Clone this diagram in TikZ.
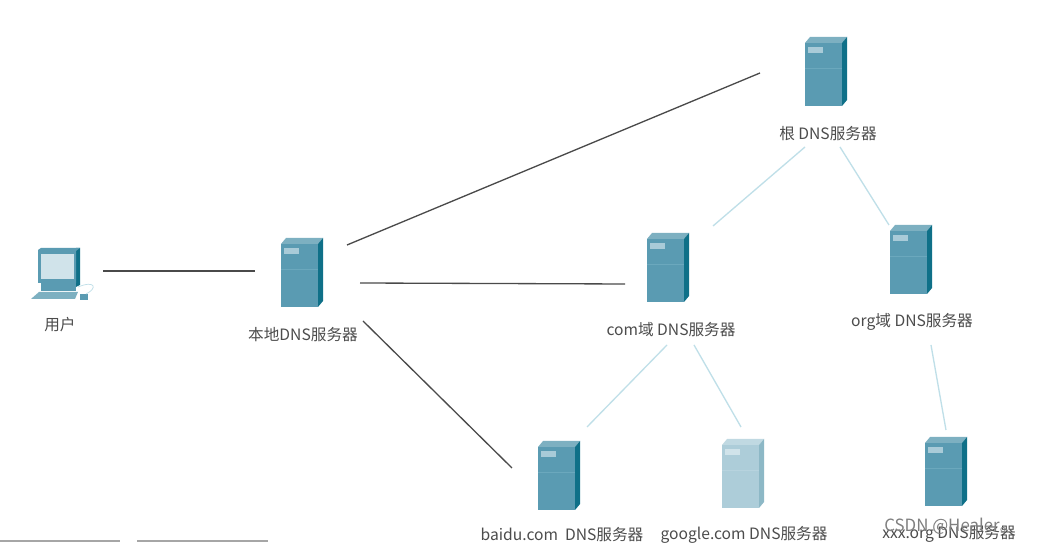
\documentclass[tikz,border=0pt]{standalone}
\usepackage{fontspec}
\setmainfont{Noto Sans CJK SC}
\definecolor{srvfront}{HTML}{5A9BB2}
\definecolor{srvtop}{HTML}{7DB0C1}
\definecolor{srvside}{HTML}{0F7088}
\definecolor{srvmark}{HTML}{A9CBD8}
\definecolor{srvseam}{HTML}{6BA8BD}
\definecolor{palefront}{HTML}{ADCDD9}
\definecolor{paletop}{HTML}{C0D9E2}
\definecolor{paleside}{HTML}{8DB8C6}
\definecolor{palemark}{HTML}{D0E3EA}
\definecolor{paleseam}{HTML}{B7D3DE}
\definecolor{linkline}{HTML}{4A4A4A}
\definecolor{treeline}{HTML}{BFDFE8}
\tikzset{
  devtxt/.style={font=\fontsize{8.9pt}{10pt}\selectfont, text=black!70, inner sep=0pt},
  hub/.style={inner sep=0pt, minimum size=0pt},
  link/.style={linkline, line width=0.75pt},
  tree/.style={treeline, line width=0.75pt},
  pics/server/.style={code={
    \fill[#1front] (-21,-28) rectangle (16,35);
    \fill[#1top] (-21,-28) -- (-16,-34) -- (21,-34) -- (16,-28) -- cycle;
    \fill[#1side] (16,-28) -- (21,-34) -- (21,29) -- (16,35) -- cycle;
    \fill[#1mark] (-18,-24) rectangle (-3,-18);
    \draw[#1seam, line width=0.4pt] (-21,-3) -- (16,-3);
  }},
}
\begin{document}
\begin{tikzpicture}[x=0.02cm, y=-0.02cm]
  \fill[white] (0,0) rectangle (1039,543);
  \useasboundingbox (0,0) rectangle (1039,543);

  % servers
  \foreach \name/\xx/\yy/\tone/\lx/\ly/\txt in {
    local/302/272/srv/303/335/本地DNS服务器,
    root/826/71/srv/828/134/根 DNS服务器,
    com/668/267/srv/671/330/com域 DNS服务器,
    org/911/259/srv/912/322/org域 DNS服务器,
    baidu/559/475/srv/562/535/baidu.com\ \ DNS服务器,
    google/743/473/pale/744/535/google.com DNS服务器,
    xxx/946/471/srv/949/534/xxx.org DNS服务器}{
    \pic at (\xx,\yy) {server=\tone};
    \node[hub] (\name) at (\xx,\yy) {};
    \node[devtxt] (\name-txt) at (\lx,\ly) {\txt};
  }

  % user computer
  \node[hub] (user) at (60,272) {};
  \fill[srvside] (76,248) -- (80,248) -- (80,285) -- (76,287) -- cycle;
  \fill[srvfront] (38,250) -- (41,248) -- (80,248) -- (76,251) -- (76,283) -- (38,283) -- cycle;
  \fill[palemark] (41,254) rectangle (74,279);
  \fill[srvfront] (41,283) rectangle (76,291);
  \fill[srvtop] (39,292) -- (78,292) -- (75,299) -- (31,299) -- cycle;
  \fill[srvfront] (80,294) rectangle (88,300);
  \draw[treeline, line width=0.4pt] (78,287) .. controls (95,280) and (98,288) .. (86,294);
  \node[devtxt] (user-txt) at (60,325) {用户};

  % links from the local server
  \draw[link] ([shift={(43,-1)}]user.center) -- ([shift={(-47,-1)}]local.center);
  \draw[link] ([shift={(45,-27)}]local.center) -- ([shift={(-66,2)}]root.center);
  \draw[link] ([shift={(58,11)}]local.center) -- ([shift={(-43,17)}]com.center);
  \draw[link] ([shift={(61,49)}]local.center) -- ([shift={(-47,-7)}]baidu.center);

  % name tree
  \draw[tree] ([shift={(-21,76)}]root.center) -- ([shift={(45,-41)}]com.center);
  \draw[tree] ([shift={(14,76)}]root.center) -- ([shift={(-22,-34)}]org.center);
  \draw[tree] ([shift={(-1,78)}]com.center) -- ([shift={(28,-48)}]baidu.center);
  \draw[tree] ([shift={(26,78)}]com.center) -- ([shift={(-2,-46)}]google.center);
  \draw[tree] ([shift={(20,86)}]org.center) -- ([shift={(0,-41)}]xxx.center);

  % page remains
  \fill[black!35] (0,540) rectangle (120,542);
  \fill[black!35] (137,540) rectangle (268,542);
  \node[inner sep=0pt, anchor=west, font=\fontsize{9.6pt}{11pt}\selectfont, text=black!50] (mark) at (884,526) {CSDN @Healer。};
\end{tikzpicture}
\end{document}
